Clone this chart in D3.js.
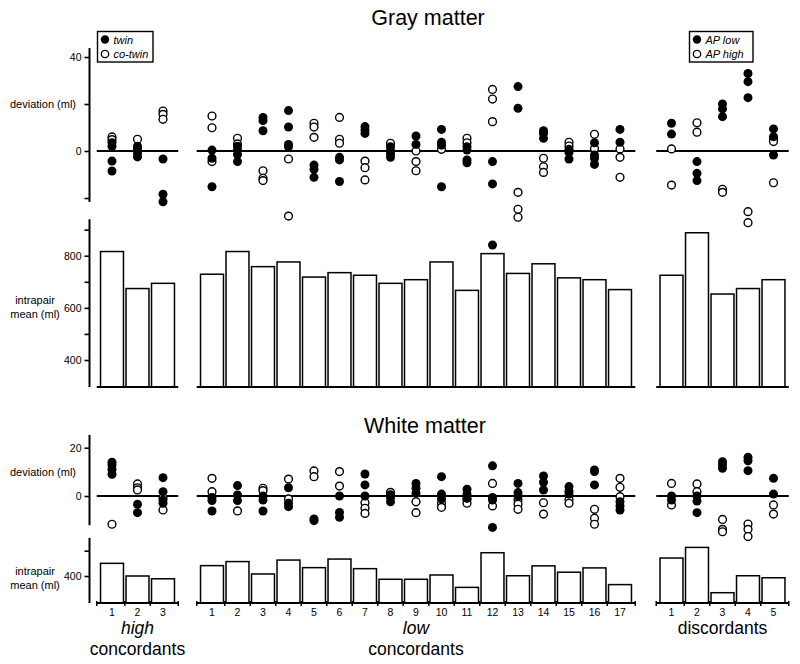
<!DOCTYPE html>
<html><head><meta charset="utf-8">
<script src="https://cdn.jsdelivr.net/npm/d3@7"></script>
<style>
body{margin:0;background:#fff}
text{font-family:"Liberation Sans",Arial,Helvetica,sans-serif;fill:#000}
</style>
</head><body>
<svg id="c" width="800" height="664"></svg>
<script>
// ---------- categories ----------
const highCats = ["1","2","3"];
const lowCats  = ["1","2","3","4","5","6","7","8","9","10","11","12","13","14","15","16","17"];
const discCats = ["1","2","3","4","5"];

// ---------- intrapair means (ml) ----------
const grayMeanHigh = [816, 674, 694];
const grayMeanLow  = [729, 816, 758, 776, 718, 735, 725, 694, 708, 776, 667, 808, 732, 769, 715, 708, 670];
const grayMeanDisc = [725, 888, 653, 674, 708];
const whiteMeanHigh = [450, 400, 389];
const whiteMeanLow  = [441, 457, 408, 463, 433, 467, 429, 387, 387, 404, 355, 492, 401, 440, 415, 432, 366];
const whiteMeanDisc = [471, 513, 334, 401, 393];

// ---------- gray matter deviations (ml) : twin / AP low (filled), co-twin / AP high (open) ----------
const grayDevHighTwin = [[3.5,2,-4.3,-8.5],[2,1,-1,-2.5],[-3.4,-18.4,-21.6]];
const grayDevHighCo   = [[6,4.8],[5],[17,15.6,13.5]];
const grayDevLowTwin = [[0.4,-3.1,-15.2],[2,0.5,-1.5,-4.5],[14.3,12.9,8.6],[17.2,10.2,2.8,1.8],[-6,-7.8,-11.2],
  [-2.7,-3.8,-13],[10.4,8.9,7.5],[1.8,0.1,-1.3,-2.7],[6.4,2.8],[9.2,3.7,2.5,-15.2],[1.8,0.4,-3.8,-5],
  [-4.5,-14,-40],[27.4,18.2],[8.6,7.5,5.4],[0.7,-0.6,-3.4],[3.5,-1.7,-3.1,-5.7],[9.2,3.7]];
const grayDevLowCo = [[14.9,9.9,-4.5],[5.4,3],[-8.4,-11.6,-12.6],[-3.4,-27.7],[11.8,10.2,5.8],
  [14.3,5,3.3],[-4.3,-7.1,-12.3],[3.3],[0,-4.5,-8.4],[0.7],[5.4,3.5],
  [26.2,22.1,12.5],[-17.6,-24.8,-28.2],[-3.1,-6.7,-9.1],[3.7,2.1],[7.1,1.1],[0.9,-2.7,-11.2]];
const grayDevDiscLow  = [[11.8,7.2],[-4.5,-9.5,-12.6],[20,17.9,14.6],[33,29.5,22.7],[9.4,6.1,-1.7]];
const grayDevDiscHigh = [[0.9,-14.5],[12,8],[-16.3,-17.6],[-25.8,-30.5],[5.1,4,-13.5]];

// ---------- white matter deviations (ml) ----------
const whiteDevHighTwin = [[14,12.8,11,9],[-3.4,-6.9],[7.6,1.8,-1.7,-3]];
const whiteDevHighCo   = [[-11.7],[5,3.4,2.5],[-0.7,-5.8]];
const whiteDevLowTwin = [[-0.6,-1.9,-6.2],[4.3,0.4,-1.9],[0,-1.7,-6.2],[3.4,-3,-4.4],[-9.5,-10.2],
  [0,-6.8,-8.8],[9.1,4.6,0],[0.5,-0.6,-2.4],[5.2,3.2,1.1],[8,0.8,-1.2],[2.8,0.8,-1],
  [12.5,-0.6,-1.7,-13],[5.2,1.4,0],[8.3,5.7,2.5],[3.9,2,0.8],[10.8,10.1,4.6],[-2.4,-4.1,-5.8]];
const whiteDevLowCo = [[7.3,1.8],[-6.2],[3.2,2.2],[7,-1.2],[10.4,8],
  [10.1,4.1],[-2.8,-5.1,-7.2],[1.5],[-2.4,-6.9],[-3,-4.7],[-1.5,-3],
  [5.2,-4.1],[-1.7,-3.4,-5.5],[-2.8,-7.5],[-1.4,-3],[-5.5,-9.2,-11.7],[7.3,3.6,-0.3]];
const whiteDevDiscLow  = [[0,-1.7],[0,-2.1,-6.9],[14.2,13,11.5],[16,14.6,10.5],[7.3,0.8]];
const whiteDevDiscHigh = [[5.2,-3.7],[5,1.8],[-9.7,-13.8,-14.8],[-11.6,-13.8,-16.8],[-3.7,-7.5]];

// ---------- labels ----------
const groupTop = ["high","low",""];
const groupBottom = ["concordants","concordants","discordants"];

// ---------- layout ----------
const svg = d3.select("#c");
const step = 25.5;
const groups = [
  {cats: highCats, cx: 137.5},
  {cats: lowCats, cx: 416},
  {cats: discCats, cx: 722.5}
];
groups.forEach(g => {
  const n = g.cats.length;
  g.x = d3.scaleBand().domain(g.cats)
    .range([g.cx - n*step/2, g.cx + n*step/2])
    .paddingInner(0.1).paddingOuter(0.05);
  g.x0 = g.x.range()[0] - 2.5;
  g.x1 = g.x.range()[1] + 2.5;
});
const axisX = 89.5;

function yAxis(scale, ticks, labels, ext) {
  const g = svg.append("g").attr("transform", `translate(${axisX},0)`);
  g.call(d3.axisLeft(scale).tickValues(ticks).tickSize(5).tickSizeOuter(0)
      .tickFormat(d => labels.includes(d) ? d : ""));
  g.select(".domain").remove();
  g.selectAll(".tick line").attr("stroke", "#000").attr("stroke-width", 1.6);
  g.selectAll(".tick text").attr("font-size", 10.5).attr("x", -8).style("font-family", '"Liberation Sans",Arial,sans-serif');
  g.append("line").attr("x1", 0).attr("x2", 0)
    .attr("y1", scale(ext[0])).attr("y2", scale(ext[1]))
    .attr("stroke", "#000").attr("stroke-width", 2);
}

function devPanel(scale, data) {
  groups.forEach((g, gi) => {
    svg.append("line").attr("x1", g.x0).attr("x2", g.x1)
      .attr("y1", scale(0)).attr("y2", scale(0))
      .attr("stroke", "#000").attr("stroke-width", 2);
    const open = data[gi][1], filled = data[gi][0];
    g.cats.forEach((c, i) => {
      const cx = g.x(c) + g.x.bandwidth()/2;
      svg.selectAll(null).data(open[i]).enter().append("circle")
        .attr("cx", cx).attr("cy", d => scale(d)).attr("r", 3.9)
        .attr("fill", "#fff").attr("stroke", "#000").attr("stroke-width", 1.4);
      svg.selectAll(null).data(filled[i]).enter().append("circle")
        .attr("cx", cx).attr("cy", d => scale(d)).attr("r", 4.5)
        .attr("fill", "#000");
    });
  });
}

function barPanel(scale, baseY, data, bottomTicks) {
  groups.forEach((g, gi) => {
    svg.selectAll(null).data(data[gi]).enter().append("rect")
      .attr("x", (d, i) => g.x(g.cats[i]))
      .attr("width", g.x.bandwidth())
      .attr("y", d => scale(d))
      .attr("height", d => baseY - scale(d))
      .attr("fill", "#fff").attr("stroke", "#000").attr("stroke-width", 1.5);
    svg.append("line").attr("x1", g.x0).attr("x2", g.x1)
      .attr("y1", baseY).attr("y2", baseY)
      .attr("stroke", "#000").attr("stroke-width", 2);
    if (bottomTicks) {
      const bounds = g.cats.slice(1).map(c => g.x(c) - g.x.step()*0.05);
      bounds.push(g.x0); bounds.push(g.x1);
      svg.selectAll(null).data(bounds).enter().append("line")
        .attr("x1", d => d).attr("x2", d => d)
        .attr("y1", baseY - 2).attr("y2", baseY + 3)
        .attr("stroke", "#000").attr("stroke-width", 1.5);
      svg.selectAll(null).data(g.cats).enter().append("text")
        .attr("x", c => g.x(c) + g.x.bandwidth()/2).attr("y", baseY + 13)
        .attr("text-anchor", "middle").attr("font-size", 10.5).text(c => c);
    }
  });
}

// ===== Gray matter =====
svg.append("text").attr("x", 428).attr("y", 25).attr("text-anchor", "middle")
  .attr("font-size", 21.5).text("Gray matter");

const yGDev = d3.scaleLinear().domain([0, 40]).range([151, 57]);
yAxis(yGDev, [-20, 0, 20, 40], [0, 40], [-21.7, 43.8]);
svg.append("text").attr("x", 76).attr("y", yGDev(20) + 4).attr("text-anchor", "end")
  .attr("font-size", 11).text("deviation (ml)");
devPanel(yGDev, [
  [grayDevHighTwin, grayDevHighCo],
  [grayDevLowTwin, grayDevLowCo],
  [grayDevDiscLow, grayDevDiscHigh]
]);

const yGBar = d3.scaleLinear().domain([400, 800]).range([360, 255.7]);
const gBase = 387;
yAxis(yGBar, [400, 500, 600, 700, 800, 900], [400, 600, 800], [yGBar.invert(gBase), 940]);
svg.append("text").attr("x", 35).attr("y", yGBar(600) - 4).attr("text-anchor", "middle")
  .attr("font-size", 11).text("intrapair");
svg.append("text").attr("x", 35).attr("y", yGBar(600) + 10).attr("text-anchor", "middle")
  .attr("font-size", 11).text("mean (ml)");
barPanel(yGBar, gBase, [grayMeanHigh, grayMeanLow, grayMeanDisc], false);

// legends
function legend(x, y, w, labels) {
  svg.append("rect").attr("x", x).attr("y", y).attr("width", w).attr("height", 30.5)
    .attr("fill", "#fff").attr("stroke", "#000").attr("stroke-width", 1.4);
  svg.append("circle").attr("cx", x + 7.5).attr("cy", y + 8).attr("r", 4.2).attr("fill", "#000");
  svg.append("circle").attr("cx", x + 7.5).attr("cy", y + 22.5).attr("r", 3.7)
    .attr("fill", "#fff").attr("stroke", "#000").attr("stroke-width", 1.3);
  labels.forEach((t, i) => svg.append("text").attr("x", x + 16).attr("y", y + 12 + i*14.5)
    .attr("font-size", 11).attr("font-style", "italic").text(t));
}
legend(97.5, 31.5, 55.5, ["twin", "co-twin"]);
legend(689.5, 31.5, 63.5, ["AP low", "AP high"]);

// ===== White matter =====
svg.append("text").attr("x", 425).attr("y", 433).attr("text-anchor", "middle")
  .attr("font-size", 21.5).text("White matter");

const yWDev = d3.scaleLinear().domain([0, 20]).range([496, 447.7]);
yAxis(yWDev, [0, 20], [0, 20], [-12.1, 25.3]);
svg.append("text").attr("x", 76).attr("y", yWDev(10) + 4).attr("text-anchor", "end")
  .attr("font-size", 11).text("deviation (ml)");
devPanel(yWDev, [
  [whiteDevHighTwin, whiteDevHighCo],
  [whiteDevLowTwin, whiteDevLowCo],
  [whiteDevDiscLow, whiteDevDiscHigh]
]);

const yWBar = d3.scaleLinear().domain([400, 500]).range([576, 550.7]);
const wBase = 603;
yAxis(yWBar, [400, 500], [400], [yWBar.invert(wBase), 551]);
svg.append("text").attr("x", 35).attr("y", 575).attr("text-anchor", "middle")
  .attr("font-size", 11).text("intrapair");
svg.append("text").attr("x", 35).attr("y", 589).attr("text-anchor", "middle")
  .attr("font-size", 11).text("mean (ml)");
barPanel(yWBar, wBase, [whiteMeanHigh, whiteMeanLow, whiteMeanDisc], true);

// group labels
groups.forEach((g, gi) => {
  if (groupTop[gi]) {
    svg.append("text").attr("x", g.cx).attr("y", 634).attr("text-anchor", "middle")
      .attr("font-size", 17.5).attr("font-style", "italic").text(groupTop[gi]);
    svg.append("text").attr("x", g.cx).attr("y", 655).attr("text-anchor", "middle")
      .attr("font-size", 17.5).text(groupBottom[gi]);
  } else {
    svg.append("text").attr("x", g.cx).attr("y", 634).attr("text-anchor", "middle")
      .attr("font-size", 17.5).text(groupBottom[gi]);
  }
});
</script>
</body></html>
